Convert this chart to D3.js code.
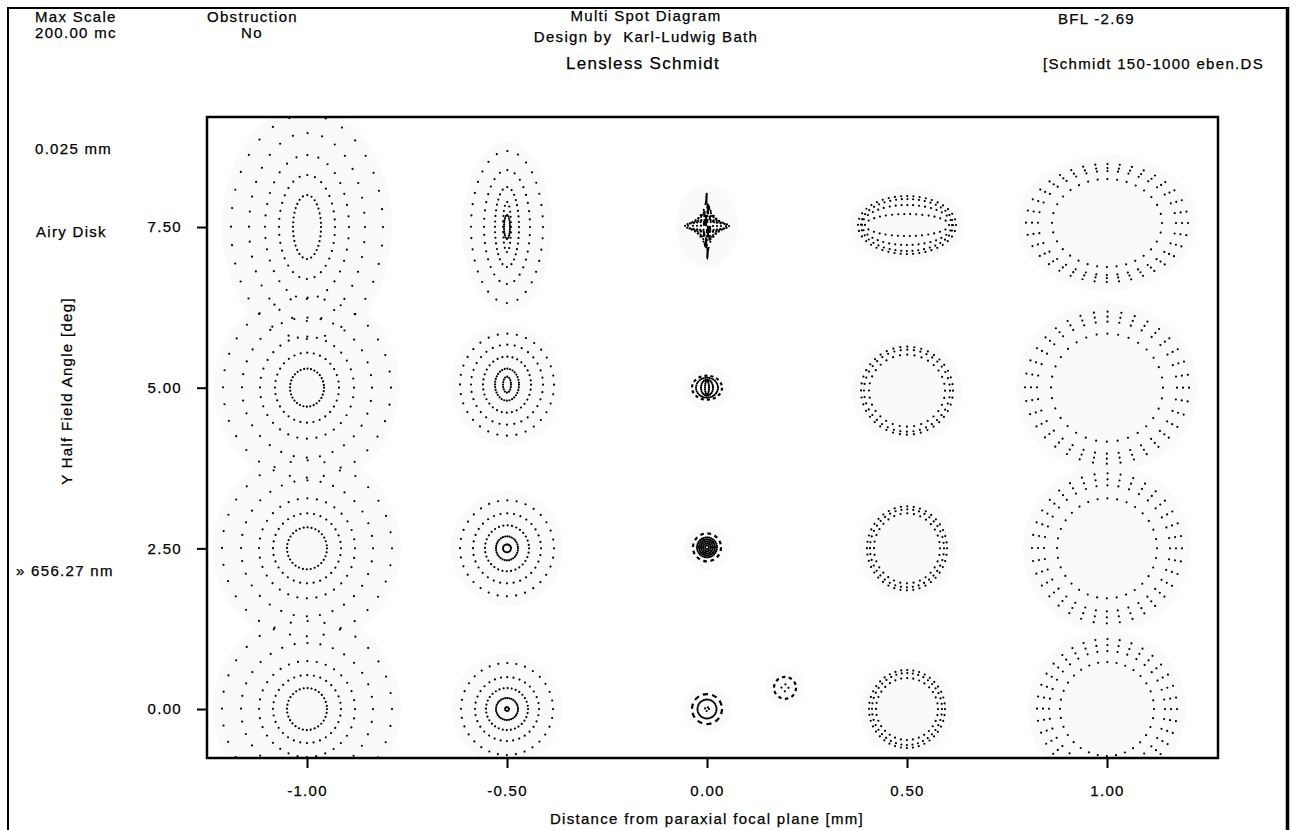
<!DOCTYPE html>
<html lang="en">
<head>
<meta charset="UTF-8">
<title>Multi Spot Diagram</title>
<script src="https://d3js.org/d3.v7.min.js"></script>
<style>
  body { margin: 0; background: #fff; }
  svg text { font-family: "Liberation Sans", Arial, sans-serif; font-size: 15px; letter-spacing: 1.3px;
             fill: #000; stroke: #000; stroke-width: 0.25px; }
</style>
</head>
<body>
<svg id="chart" width="1300" height="830"></svg>
<script>
// axes
const focusShifts = [-1.00, -0.50, 0.00, 0.50, 1.00];   // mm
const fieldAngles = [0.00, 2.50, 5.00, 7.50];           // deg

// spot rings, one list per focus shift
// [field, rx µm, ry µm, marks, dash, dy µm]
const ringsM100 = [
  [0.00, 20, 21, 32, 0, 0], [0.00, 34, 34, 32, 0, 0], [0.00, 48, 48, 32, 0, 0], [0.00, 66, 66, 32, 0, 0], [0.00, 85, 88, 32, 0, 0],
  [2.50, 20, 21, 32, 0, 0], [2.50, 34, 35, 32, 0, 0], [2.50, 48, 50, 32, 0, 0], [2.50, 66, 68, 32, 0, 0], [2.50, 85, 88, 32, 0, 0],
  [5.00, 17, 19, 32, 0, 0], [5.00, 32, 35, 32, 0, 0], [5.00, 47, 51, 32, 0, 0], [5.00, 65, 70, 32, 0, 0], [5.00, 84, 90, 32, 0, 0],
  [7.50, 14, 32, 32, 0, 0], [7.50, 28, 52, 32, 0, 0], [7.50, 42, 72, 32, 0, 0], [7.50, 58, 94, 32, 0, 0], [7.50, 76, 112, 32, 0, 0]
];
const ringsM050 = [
  [0.00, 2, 2, 8, 0, 0], [0.00, 11, 11, 32, 0, 0], [0.00, 21, 21, 32, 0, 0], [0.00, 32, 32, 32, 0, 0], [0.00, 46, 46, 32, 0, 0],
  [2.50, 4, 4, 16, 0, 0], [2.50, 11, 12, 32, 0, 0], [2.50, 22, 23, 32, 0, 0], [2.50, 34, 35, 32, 0, 0], [2.50, 47, 48, 32, 0, 0],
  [5.00, 4, 8, 16, 0, 3], [5.00, 12, 16, 32, 0, 3], [5.00, 24, 28, 32, 0, 3], [5.00, 36, 40, 32, 0, 3], [5.00, 47, 51, 32, 0, 3],
  [7.50, 3, 12, 24, 0, 0], [7.50, 4, 25, 20, 0, 0], [7.50, 12, 40, 32, 0, 0], [7.50, 23, 57, 32, 0, 0], [7.50, 36, 76, 32, 0, 0]
];
const rings000 = [
  [0.00, 2, 2, 4, 0, 0], [0.00, 9.5, 9.5, 32, 0, 0], [0.00, 15, 15, 10, 0.55, 0],
  [2.50, 2, 2, 8, 0, 1], [2.50, 4, 4, 16, 0, 1], [2.50, 6, 6, 24, 0, 1], [2.50, 8, 8, 32, 0, 1], [2.50, 10, 10, 32, 0, 1], [2.50, 14, 14, 12, 0.5, 1],
  [5.00, 2, 7, 16, 0, 0], [5.00, 6, 8, 24, 0, 0], [5.00, 11, 10, 32, 0, 0], [5.00, 15, 12, 14, 0.5, 0],
  [7.50, 22, 4, 28, 0, 1], [7.50, 19, 6, 28, 0, 1], [7.50, 14, 10, 24, 0, 1], [7.50, 10, 14, 20, 0, 1],
  [7.50, 6, 19, 16, 0, 1], [7.50, 3, 25, 10, 0.4, 1], [7.50, 1, 33, 6, 0.5, 1]
];
const ringsP050 = [
  [0.00, 31, 31, 32, 0, 0], [0.00, 35, 36, 40, 0, 0], [0.00, 38, 39, 40, 0, 0],
  [2.50, 33, 35, 32, 0, 0], [2.50, 37, 39, 40, 0, 0], [2.50, 40, 42, 40, 0, 0],
  [5.00, 38, 36, 32, 0, -3], [5.00, 43, 41, 40, 0, -3], [5.00, 46, 44, 40, 0, -3],
  [7.50, 42, 11, 30, 0, 2], [7.50, 45, 20, 36, 0, 2], [7.50, 46, 26, 40, 0, 2], [7.50, 49, 29, 40, 0, 2]
];
const ringsP100 = [
  [0.00, 47, 47, 32, 0, 0], [0.00, 58, 58, 36, 0, 0], [0.00, 64, 64, 36, 0, 0], [0.00, 70, 70, 36, 0, 0],
  [2.50, 50, 50, 32, 0, 0], [2.50, 63, 63, 36, 0, 0], [2.50, 69, 69, 36, 0, 0], [2.50, 75, 75, 36, 0, 0],
  [5.00, 56, 54, 32, 0, 0], [5.00, 70, 66, 36, 0, 0], [5.00, 76, 71, 36, 0, 0], [5.00, 82, 76, 36, 0, 0],
  [7.50, 55, 44, 32, 0, 4], [7.50, 69, 52, 36, 0, 4], [7.50, 75, 55, 36, 0, 4], [7.50, 81, 59, 36, 0, 4]
];
// airy disk marker: [focus, field, rx, ry, marks, dash]
const airyDisk = [
  [0.195, 0.33, 11, 11, 10, 0.5],
  [0.195, 0.33, 3.5, 3.5, 4, 0]
];

const columns = [
  {focus: -1.00, rings: ringsM100},
  {focus: -0.50, rings: ringsM050},
  {focus: 0.00, rings: rings000},
  {focus: 0.50, rings: ringsP050},
  {focus: 1.00, rings: ringsP100}
];

const svg = d3.select("#chart");

const x = d3.scaleLinear().domain([-1.25, 1.2775]).range([207, 1218]);
const y = d3.scaleLinear().domain([-0.762, 9.212]).range([758, 117]);
// 200 µm spot scale = one focus step
const s = d3.scaleLinear().domain([0, 200]).range([0, x(0.5) - x(0)]);

function perim(a, b) {
  return Math.PI * (3 * (a + b) - Math.sqrt((3 * a + b) * (a + 3 * b)));
}

const defs = svg.append("defs");
defs.append("clipPath").attr("id", "plotclip")
  .append("rect").attr("x", 208).attr("y", 118).attr("width", 1009).attr("height", 639);
defs.append("clipPath").attr("id", "pageclip")
  .append("rect").attr("x", 0).attr("y", 0).attr("width", 1285).attr("height", 830);

// flatten rings
const allRings = [];
columns.forEach(c => c.rings.forEach(r => allRings.push({
  focus: c.focus, field: r[0], rx: r[1], ry: r[2], n: r[3], dash: r[4], dy: r[5]
})));
airyDisk.forEach(r => allRings.push({
  focus: r[0], field: r[1], rx: r[2], ry: r[3], n: r[4], dash: r[5], dy: 0
}));

// faint halo behind each spot
const halos = d3.rollups(allRings, v => ({
  focus: v[0].focus, field: v[0].field, dy: v[0].dy,
  rx: d3.max(v, d => d.rx), ry: d3.max(v, d => d.ry)
}), d => d.focus + "_" + d.field).map(d => d[1]);

const spots = svg.append("g").attr("clip-path", "url(#plotclip)");

spots.selectAll("ellipse.halo")
  .data(halos)
  .join("ellipse")
  .attr("class", "halo")
  .attr("cx", d => x(d.focus))
  .attr("cy", d => y(d.field) - s(d.dy))
  .attr("rx", d => s(d.rx) + 9)
  .attr("ry", d => s(d.ry) + 9)
  .attr("fill", "#fafafa");

spots.selectAll("ellipse.ring")
  .data(allRings)
  .join("ellipse")
  .attr("class", "ring")
  .attr("cx", d => x(d.focus))
  .attr("cy", d => y(d.field) - s(d.dy))
  .attr("rx", d => s(d.rx))
  .attr("ry", d => s(d.ry))
  .attr("fill", "none")
  .attr("stroke", "#000")
  .attr("stroke-width", 2.2)
  .attr("stroke-linecap", d => d.dash === 0 ? "round" : "butt")
  .attr("stroke-dasharray", d => {
    const p = perim(s(d.rx), s(d.ry)) / d.n;
    return d.dash === 0 ? `0 ${p}` : `${d.dash * p} ${(1 - d.dash) * p}`;
  });

// axes
const fmt = d => d.toFixed(2);
const xAxis = svg.append("g")
  .attr("transform", "translate(0,758)")
  .call(d3.axisBottom(x).tickValues(focusShifts).tickFormat(fmt)
    .tickSize(10).tickPadding(17));
const yAxis = svg.append("g")
  .attr("transform", "translate(207,0)")
  .call(d3.axisLeft(y).tickValues(fieldAngles).tickFormat(fmt)
    .tickSize(10).tickPadding(15));
[xAxis, yAxis].forEach(a => {
  a.select(".domain").remove();
  a.selectAll(".tick line").attr("stroke", "#000").attr("stroke-width", 2);
});

// plot frame
svg.append("rect")
  .attr("x", 207).attr("y", 117).attr("width", 1011).attr("height", 641)
  .attr("fill", "none").attr("stroke", "#000").attr("stroke-width", 2.5);

// axis titles
svg.append("text")
  .attr("x", 707).attr("y", 824).attr("text-anchor", "middle")
  .text("Distance from paraxial focal plane [mm]");
svg.append("text")
  .attr("transform", "translate(72,391) rotate(-90)")
  .attr("text-anchor", "middle")
  .text("Y Half Field Angle [deg]");

// header and side notes
const notes = [
  {t: "Max Scale", x: 35, y: 22},
  {t: "200.00 mc", x: 35, y: 38},
  {t: "Obstruction", x: 207, y: 22},
  {t: "No", x: 241, y: 38},
  {t: "BFL -2.69", x: 1058, y: 24},
  {t: "0.025 mm", x: 35, y: 154},
  {t: "Airy Disk", x: 36, y: 237},
  {t: "\u00bb 656.27 nm", x: 16, y: 576}
];
svg.selectAll("text.note")
  .data(notes)
  .join("text")
  .attr("class", "note")
  .attr("x", d => d.x).attr("y", d => d.y)
  .text(d => d.t);

svg.append("text").attr("x", 646).attr("y", 21).attr("text-anchor", "middle")
  .text("Multi Spot Diagram");
svg.append("text").attr("x", 646).attr("y", 42).attr("text-anchor", "middle")
  .style("white-space", "pre")
  .text("Design by  Karl-Ludwig Bath");
svg.append("text").attr("x", 643).attr("y", 69).attr("text-anchor", "middle")
  .style("font-size", "17px")
  .text("Lensless Schmidt");
svg.append("text").attr("x", 1043).attr("y", 69)
  .attr("clip-path", "url(#pageclip)")
  .text("[Schmidt 150-1000 eben.DS");

// page frame
svg.append("line").attr("x1", 8).attr("y1", 8).attr("x2", 1289).attr("y2", 8)
  .attr("stroke", "#000").attr("stroke-width", 2);
svg.append("line").attr("x1", 8).attr("y1", 7).attr("x2", 8).attr("y2", 830)
  .attr("stroke", "#000").attr("stroke-width", 2);
svg.append("line").attr("x1", 1287.5).attr("y1", 7).attr("x2", 1287.5).attr("y2", 830)
  .attr("stroke", "#000").attr("stroke-width", 3.5);
</script>
</body>
</html>
